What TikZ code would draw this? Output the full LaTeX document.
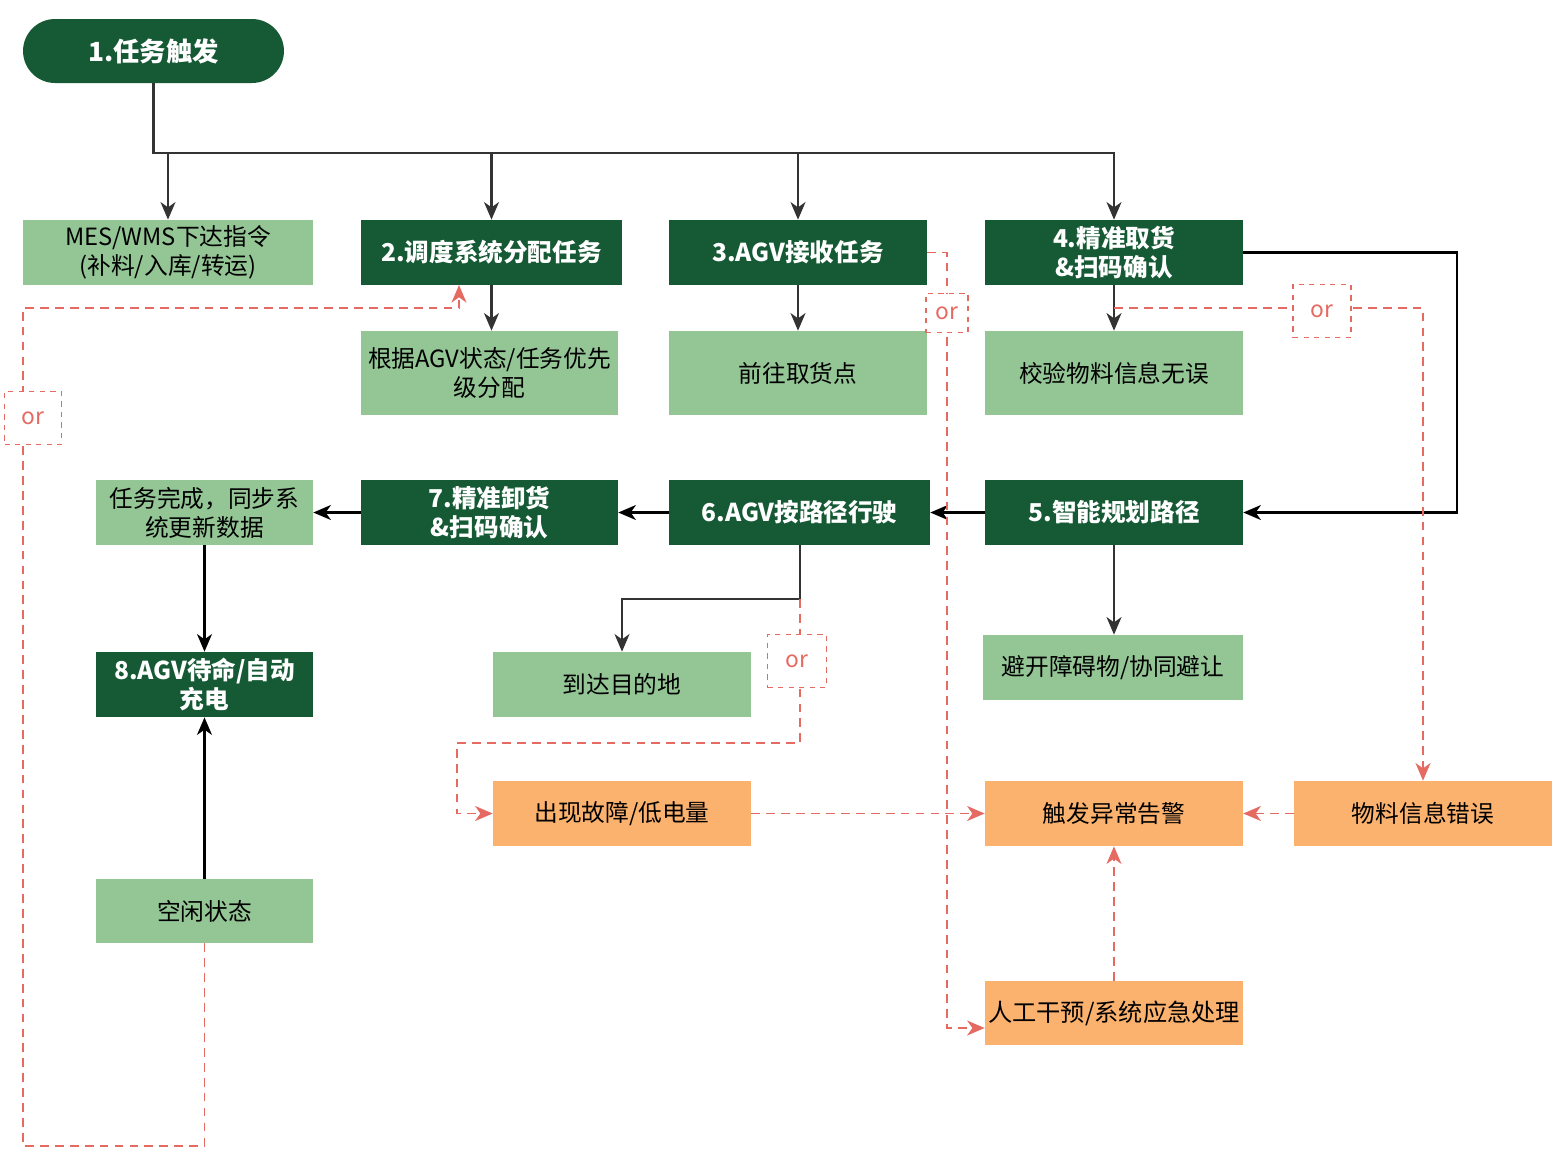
\documentclass[tikz,border=0pt]{standalone}
\usepackage{fontspec}
\setmainfont{Noto Sans CJK SC}
\usetikzlibrary{arrows.meta,positioning}
\definecolor{darkg}{HTML}{165A35}
\definecolor{lightg}{HTML}{93C595}
\definecolor{warnor}{HTML}{FCB26F}
\definecolor{alertred}{HTML}{E56A62}
\definecolor{linegray}{HTML}{333333}

\begin{document}
\begin{tikzpicture}[
  x=0.02cm, y=-0.02cm,
  font=\fontsize{13.5}{16.5}\selectfont,
  box/.style={inner sep=0pt, align=center, minimum width=5.16cm, minimum height=1.3cm},
  stage/.style={box, fill=darkg, text=white, font=\fontsize{14}{16.5}\selectfont\bfseries},
  substep/.style={box, fill=lightg},
  alarmbox/.style={box, fill=warnor},
  ornote/.style={draw=alertred, dashed, line width=0.9pt, fill=white, text=alertred, inner sep=0pt, font=\fontsize{13}{15}\selectfont},
  arrow/.style={-{Stealth[length=10pt,width=8.5pt,inset=3pt]}, line width=1.2pt, draw=linegray},
  warn/.style={-{Stealth[length=10pt,width=8.5pt,inset=3pt]}, dash pattern=on 5pt off 3.5pt, line width=1.1pt, draw=alertred}
]
\useasboundingbox (0,0) rectangle (1552,1154);

% first row
\node[stage, rounded corners=0.64cm, minimum width=5.22cm, minimum height=1.28cm,
  font=\fontsize{15}{18}\selectfont\bfseries] (t1) at (153.5,51) {1.任务触发};
\node[substep, minimum width=5.8cm] (mes) at (168,252.5) {MES/WMS下达指令\\(补料/入库/转运)};
\node[stage, minimum width=5.22cm] (s2) at (491.5,252.5) {2.调度系统分配任务};
\node[stage] (s3) at (798,252.5) {3.AGV接收任务};
\node[stage] (s4) at (1114,252.5) {4.精准取货\\\&扫码确认};

\node[substep, minimum width=5.14cm, minimum height=1.68cm] (s2a) at (489.5,373) {根据AGV状态/任务优先\\级分配};
\node[substep, minimum height=1.68cm] (s3a) at (798,373) {前往取货点};
\node[substep, minimum height=1.68cm] (s4a) at (1114,373) {校验物料信息无误};

% second row
\node[stage] (s5) at (1114,512.5) {5.智能规划路径};
\node[stage, minimum width=5.22cm] (s6) at (799.5,512.5) {6.AGV按路径行驶};
\node[stage, minimum width=5.14cm] (s7) at (489.5,512.5) {7.精准卸货\\\&扫码确认};
\node[substep, minimum width=4.34cm] (done) at (204.5,512.5) {任务完成，同步系\\统更新数据};

\node[substep, minimum width=5.2cm] (s5a) at (1113,667.5) {避开障碍物/协同避让};
\node[substep] (s6a) at (622,684.5) {到达目的地};
\node[stage, minimum width=4.34cm] (s8) at (204.5,684.5) {8.AGV待命/自动\\充电};
\node[substep, minimum width=4.34cm, minimum height=1.28cm] (idle) at (204.5,911) {空闲状态};

% exceptions
\node[alarmbox] (fault) at (622,813.5) {出现故障/低电量};
\node[alarmbox] (alarm) at (1114,813.5) {触发异常告警};
\node[alarmbox] (materr) at (1423,813.5) {物料信息错误};
\node[alarmbox, minimum height=1.28cm, font=\fontsize{13.8}{17}\selectfont] (manual) at (1114,1013) {人工干预/系统应急处理};

\coordinate (bus) at (1114,153);
\coordinate (rloop) at (1457,252.5);
\coordinate (s6knee) at (800,599);
\coordinate (s4tap) at (1114,308);
\coordinate (rdrop) at (947,252.5);
\coordinate (lbot) at (23,1146);
\coordinate (ltop) at (23,308);
\coordinate (s2in) at (459,285);
\coordinate (fleft) at (457,743);
\coordinate (manin) at ([yshift=-0.3cm]manual.west);

\draw[arrow] (t1.south) |- (bus) -- (s4.north);
\foreach \n in {mes,s2,s3}
  \draw[arrow] (\n.north |- bus) -- (\n.north);
\foreach \n/\m in {s2/s2a,s3/s3a,s4/s4a,s5/s5a}
  \draw[arrow] (\n.south) -- (\n.south |- \m.north);
\draw[arrow, draw=black] (done.south) -- (s8.north);
\draw[arrow, draw=black] (s4.east) -- (rloop) |- (s5.east);
\draw[arrow, draw=black] (s5.west) -- (s6.east);
\draw[arrow, draw=black] (s6.west) -- (s7.east);
\draw[arrow, draw=black] (s7.west) -- (done.east);
\draw[arrow] (s6.south -| s6knee) -- (s6knee) -| (s6a.north);
\draw[arrow, draw=black] (idle.north) -- (s8.south);

\draw[warn] (idle.south) |- (lbot) -- (ltop) -| (s2in);
\draw[warn] (s3.east) -- (rdrop) |- (manin);
\draw[warn] (s4tap) -| (materr.north);
\draw[warn] (s6knee) |- (fleft) |- (fault.west);
\draw[warn] (fault.east) -- (alarm.west);
\draw[warn] (materr.west) -- (alarm.east);
\draw[warn] (manual.north) -- (alarm.south);

\node[ornote, minimum width=1.14cm, minimum height=1.06cm] (or1) at (33,418) {or};
\node[ornote, minimum width=0.84cm, minimum height=0.78cm] (or2) at (947,313) {or};
\node[ornote, minimum width=1.16cm, minimum height=1.06cm] (or3) at (1322,311) {or};
\node[ornote, minimum width=1.18cm, minimum height=1.06cm] (or4) at (797,661) {or};

\end{tikzpicture}
\end{document}
